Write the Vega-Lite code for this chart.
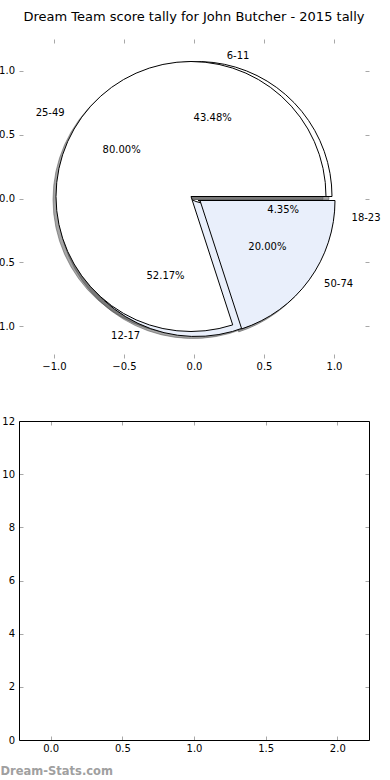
{
  "$schema": "https://vega.github.io/schema/vega-lite/v6.json",
  "width": 350,
  "height": 701,
  "autosize": {"type": "none"},
  "padding": {"left": 19, "top": 39, "right": 21, "bottom": 40},
  "title": {"text": "Dream Team score tally for John Butcher - 2015 tally", "font": "DejaVu Sans", "fontSize": 13, "fontWeight": "normal", "color": "#000000", "anchor": "middle", "frame": "group", "baseline": "alphabetic", "offset": 4.5},
  "config": {
    "view": {"stroke": null},
    "font": "DejaVu Sans",
    "axis": {"domain": false, "grid": false, "ticks": true, "tickColor": "#a8a8a8", "tickSize": -4, "tickWidth": 1, "labelPadding": 7, "labelFont": "DejaVu Sans", "labelFontSize": 10, "labelColor": "#000000", "labelFlush": false, "labelOverlap": false}
  },
  "data": {"values": [
    {"pie": "A", "label": "6-11", "value": 10, "idx": 1, "pct": "43.48%"},
    {"pie": "A", "label": "12-17", "value": 12, "idx": 2, "pct": "52.17%"},
    {"pie": "A", "label": "18-23", "value": 1, "idx": 3, "pct": "4.35%"},
    {"pie": "B", "label": "25-49", "value": 4, "idx": 1, "pct": "80.00%"},
    {"pie": "B", "label": "50-74", "value": 1, "idx": 2, "pct": "20.00%"}
  ]},
  "encoding": {
    "x": {"datum": 0, "type": "quantitative", "scale": {"domain": [-1.25, 1.25], "nice": false, "zero": false}, "axis": null},
    "y": {"datum": 0, "type": "quantitative", "scale": {"domain": [-4.2437, 1.25], "nice": false, "zero": false}, "axis": null}
  },
  "layer": [
    {"transform": [{"filter": "datum.pie == 'A'"}, {"stack": "value", "groupby": ["pie"], "sort": [{"field": "idx", "order": "ascending"}], "offset": "normalize", "as": ["t0", "t1"]}, {"filter": "datum.label == '6-11'"}],
     "mark": {"type": "arc", "radius": 135, "fill": "#4d4d4d", "fillOpacity": 0.5, "stroke": "#4d4d4d", "strokeOpacity": 0.5, "strokeWidth": 1, "xOffset": 0, "yOffset": 1},
     "encoding": {"theta": {"field": "t0", "type": "quantitative", "scale": {"domain": [0, 1], "range": [1.5707963, -4.712389]}}, "theta2": {"field": "t1"}}},
    {"transform": [{"filter": "datum.pie == 'A'"}, {"stack": "value", "groupby": ["pie"], "sort": [{"field": "idx", "order": "ascending"}], "offset": "normalize", "as": ["t0", "t1"]}, {"filter": "datum.label == '12-17'"}],
     "mark": {"type": "arc", "radius": 135, "fill": "#4d4d4d", "fillOpacity": 0.5, "stroke": "#4d4d4d", "strokeOpacity": 0.5, "strokeWidth": 1, "xOffset": -1, "yOffset": 5},
     "encoding": {"theta": {"field": "t0", "type": "quantitative", "scale": {"domain": [0, 1], "range": [1.5707963, -4.712389]}}, "theta2": {"field": "t1"}}},
    {"transform": [{"filter": "datum.pie == 'A'"}, {"stack": "value", "groupby": ["pie"], "sort": [{"field": "idx", "order": "ascending"}], "offset": "normalize", "as": ["t0", "t1"]}, {"filter": "datum.label == '18-23'"}],
     "mark": {"type": "arc", "radius": 135, "fill": "#4d4d4d", "fillOpacity": 0.5, "stroke": "#4d4d4d", "strokeOpacity": 0.5, "strokeWidth": 1, "xOffset": 1, "yOffset": 5},
     "encoding": {"theta": {"field": "t0", "type": "quantitative", "scale": {"domain": [0, 1], "range": [1.5707963, -4.712389]}}, "theta2": {"field": "t1"}}},
    {"transform": [{"filter": "datum.pie == 'B'"}, {"stack": "value", "groupby": ["pie"], "sort": [{"field": "idx", "order": "ascending"}], "offset": "normalize", "as": ["t0", "t1"]}, {"filter": "datum.label == '25-49'"}],
     "mark": {"type": "arc", "radius": 135, "fill": "#4d4d4d", "fillOpacity": 0.5, "stroke": "#4d4d4d", "strokeOpacity": 0.5, "strokeWidth": 1, "xOffset": -6, "yOffset": 1},
     "encoding": {"theta": {"field": "t0", "type": "quantitative", "scale": {"domain": [0, 1], "range": [1.5707963, -4.712389]}}, "theta2": {"field": "t1"}}},
    {"transform": [{"filter": "datum.pie == 'B'"}, {"stack": "value", "groupby": ["pie"], "sort": [{"field": "idx", "order": "ascending"}], "offset": "normalize", "as": ["t0", "t1"]}, {"filter": "datum.label == '50-74'"}],
     "mark": {"type": "arc", "radius": 135, "fill": "#4d4d4d", "fillOpacity": 0.5, "stroke": "#4d4d4d", "strokeOpacity": 0.5, "strokeWidth": 1, "xOffset": 3, "yOffset": 5},
     "encoding": {"theta": {"field": "t0", "type": "quantitative", "scale": {"domain": [0, 1], "range": [1.5707963, -4.712389]}}, "theta2": {"field": "t1"}}},
    {"transform": [{"filter": "datum.pie == 'A'"}, {"stack": "value", "groupby": ["pie"], "sort": [{"field": "idx", "order": "ascending"}], "offset": "normalize", "as": ["t0", "t1"]}, {"filter": "datum.label == '6-11'"}],
     "mark": {"type": "arc", "radius": 135, "fill": "#ffffff", "stroke": "#000000", "strokeWidth": 1, "xOffset": 3, "yOffset": -2},
     "encoding": {"theta": {"field": "t0", "type": "quantitative", "scale": {"domain": [0, 1], "range": [1.5707963, -4.712389]}}, "theta2": {"field": "t1"}}},
    {"transform": [{"filter": "datum.pie == 'A'"}, {"stack": "value", "groupby": ["pie"], "sort": [{"field": "idx", "order": "ascending"}], "offset": "normalize", "as": ["t0", "t1"]}, {"filter": "datum.label == '12-17'"}],
     "mark": {"type": "arc", "radius": 135, "fill": "#e9effb", "stroke": "#000000", "strokeWidth": 1, "xOffset": 2, "yOffset": 3},
     "encoding": {"theta": {"field": "t0", "type": "quantitative", "scale": {"domain": [0, 1], "range": [1.5707963, -4.712389]}}, "theta2": {"field": "t1"}}},
    {"transform": [{"filter": "datum.pie == 'A'"}, {"stack": "value", "groupby": ["pie"], "sort": [{"field": "idx", "order": "ascending"}], "offset": "normalize", "as": ["t0", "t1"]}, {"filter": "datum.label == '18-23'"}],
     "mark": {"type": "arc", "radius": 135, "fill": "#ffffff", "stroke": "#000000", "strokeWidth": 1, "xOffset": 4, "yOffset": 2},
     "encoding": {"theta": {"field": "t0", "type": "quantitative", "scale": {"domain": [0, 1], "range": [1.5707963, -4.712389]}}, "theta2": {"field": "t1"}}},
    {"transform": [{"filter": "datum.pie == 'B'"}, {"stack": "value", "groupby": ["pie"], "sort": [{"field": "idx", "order": "ascending"}], "offset": "normalize", "as": ["t0", "t1"]}, {"filter": "datum.label == '25-49'"}],
     "mark": {"type": "arc", "radius": 135, "fill": "#ffffff", "stroke": "#000000", "strokeWidth": 1, "xOffset": -3, "yOffset": -2},
     "encoding": {"theta": {"field": "t0", "type": "quantitative", "scale": {"domain": [0, 1], "range": [1.5707963, -4.712389]}}, "theta2": {"field": "t1"}}},
    {"transform": [{"filter": "datum.pie == 'B'"}, {"stack": "value", "groupby": ["pie"], "sort": [{"field": "idx", "order": "ascending"}], "offset": "normalize", "as": ["t0", "t1"]}, {"filter": "datum.label == '50-74'"}],
     "mark": {"type": "arc", "radius": 135, "fill": "#e9effb", "stroke": "#000000", "strokeWidth": 1, "xOffset": 6, "yOffset": 2},
     "encoding": {"theta": {"field": "t0", "type": "quantitative", "scale": {"domain": [0, 1], "range": [1.5707963, -4.712389]}}, "theta2": {"field": "t1"}}},
    {"transform": [{"filter": "datum.pie == 'A'"}],
     "mark": {"type": "text", "font": "DejaVu Sans", "fontSize": 10, "color": "#000000", "baseline": "middle",
       "radius": {"expr": "datum.label == '18-23' ? 158 : 146"},
       "align": {"expr": "datum.label == '12-17' ? 'right' : 'left'"},
       "dx": {"expr": "datum.label == '6-11' ? 3 : (datum.label == '12-17' ? -5 : 1)"},
       "dy": {"expr": "datum.label == '18-23' ? -2 : 0"}},
     "encoding": {"theta": {"field": "value", "type": "quantitative", "stack": "normalize", "scale": {"domain": [0, 1], "range": [1.5707963, -4.712389]}}, "order": {"field": "idx", "type": "quantitative"}, "text": {"field": "label", "type": "nominal"}}},
    {"transform": [{"filter": "datum.pie == 'A'"}],
     "mark": {"type": "text", "font": "DejaVu Sans", "fontSize": 10, "color": "#000000", "baseline": "middle", "align": "center",
       "radius": {"expr": "datum.label == '18-23' ? 89 : 82"},
       "dx": {"expr": "datum.label == '6-11' ? 2 : (datum.label == '12-17' ? -1 : 1)"},
       "dy": {"expr": "datum.label == '18-23' ? -1 : 0"}},
     "encoding": {"theta": {"field": "value", "type": "quantitative", "stack": "normalize", "scale": {"domain": [0, 1], "range": [1.5707963, -4.712389]}}, "order": {"field": "idx", "type": "quantitative"}, "text": {"field": "pct", "type": "nominal"}}},
    {"transform": [{"filter": "datum.pie == 'B'"}],
     "mark": {"type": "text", "font": "DejaVu Sans", "fontSize": 10, "color": "#000000", "baseline": "middle",
       "radius": {"expr": "datum.label == '25-49' ? 145 : 146"},
       "align": {"expr": "datum.label == '25-49' ? 'right' : 'left'"},
       "dx": {"expr": "datum.label == '25-49' ? -12 : 12"}},
     "encoding": {"theta": {"field": "value", "type": "quantitative", "stack": "normalize", "scale": {"domain": [0, 1], "range": [1.5707963, -4.712389]}}, "order": {"field": "idx", "type": "quantitative"}, "text": {"field": "label", "type": "nominal"}}},
    {"transform": [{"filter": "datum.pie == 'B'"}],
     "mark": {"type": "text", "font": "DejaVu Sans", "fontSize": 10, "color": "#000000", "baseline": "middle", "align": "center",
       "radius": 82,
       "dx": {"expr": "datum.label == '25-49' ? -6 : 7"}},
     "encoding": {"theta": {"field": "value", "type": "quantitative", "stack": "normalize", "scale": {"domain": [0, 1], "range": [1.5707963, -4.712389]}}, "order": {"field": "idx", "type": "quantitative"}, "text": {"field": "pct", "type": "nominal"}}},
    {"data": {"values": [{}]},
     "mark": {"type": "point", "opacity": 0},
     "encoding": {
       "x": {"datum": 0, "type": "quantitative", "scale": {"domain": [-1.25, 1.25], "nice": false, "zero": false}, "axis": {"orient": "bottom", "offset": -382, "values": [-1, -0.5, 0, 0.5, 1], "format": ".1f", "title": null}},
       "y": {"datum": 0, "type": "quantitative", "scale": {"domain": [-4.2437, 1.25], "nice": false, "zero": false}, "axis": {"orient": "left", "values": [-1, -0.5, 0, 0.5, 1], "format": ".1f", "title": null, "labelPadding": 8.5}}}},
    {"data": {"values": [{}]},
     "mark": {"type": "point", "opacity": 0},
     "encoding": {
       "x": {"datum": 0, "type": "quantitative", "scale": {"domain": [-1.25, 1.25], "nice": false, "zero": false}, "axis": {"orient": "top", "values": [-1, -0.5, 0, 0.5, 1], "labels": false, "title": null}},
       "y": {"datum": 0, "type": "quantitative", "scale": {"domain": [-4.2437, 1.25], "nice": false, "zero": false}, "axis": {"orient": "right", "values": [-1, -0.5, 0, 0.5, 1], "labels": false, "title": null}}}},
    {"data": {"values": [{}]},
     "mark": {"type": "rect", "fillOpacity": 0, "stroke": "#000000", "strokeWidth": 1, "xOffset": 0.5, "x2Offset": 0.5, "yOffset": 0.5, "y2Offset": 0.5},
     "encoding": {
       "x": {"datum": -0.221, "type": "quantitative", "scale": {"domain": [-0.221, 2.221], "nice": false, "zero": false},
         "axis": {"orient": "bottom", "values": [0, 0.5, 1, 1.5, 2], "format": ".1f", "title": "Dream-Stats.com", "titleX": -19, "titleY": 34, "titleAlign": "left", "titleBaseline": "alphabetic", "titleFont": "DejaVu Sans", "titleFontSize": 11.5, "titleFontWeight": "bold", "titleColor": "#a0a0a0"}},
       "x2": {"datum": 2.221},
       "y": {"datum": 0, "type": "quantitative", "scale": {"domain": [0, 26.37], "nice": false, "zero": false}, "axis": {"orient": "left", "values": [0, 2, 4, 6, 8, 10, 12], "format": "d", "title": null, "labelPadding": 8.5}},
       "y2": {"datum": 12}}},
    {"data": {"values": [{}]},
     "mark": {"type": "point", "opacity": 0},
     "encoding": {
       "x": {"datum": 0, "type": "quantitative", "scale": {"domain": [-0.221, 2.221], "nice": false, "zero": false}, "axis": {"orient": "top", "offset": -382, "values": [0, 0.5, 1, 1.5, 2], "labels": false, "title": null}},
       "y": {"datum": 0, "type": "quantitative", "scale": {"domain": [0, 26.37], "nice": false, "zero": false}, "axis": {"orient": "right", "values": [0, 2, 4, 6, 8, 10, 12], "labels": false, "title": null}}}}
  ],
  "resolve": {"scale": {"x": "independent", "y": "independent"}, "axis": {"x": "independent", "y": "independent"}}
}
